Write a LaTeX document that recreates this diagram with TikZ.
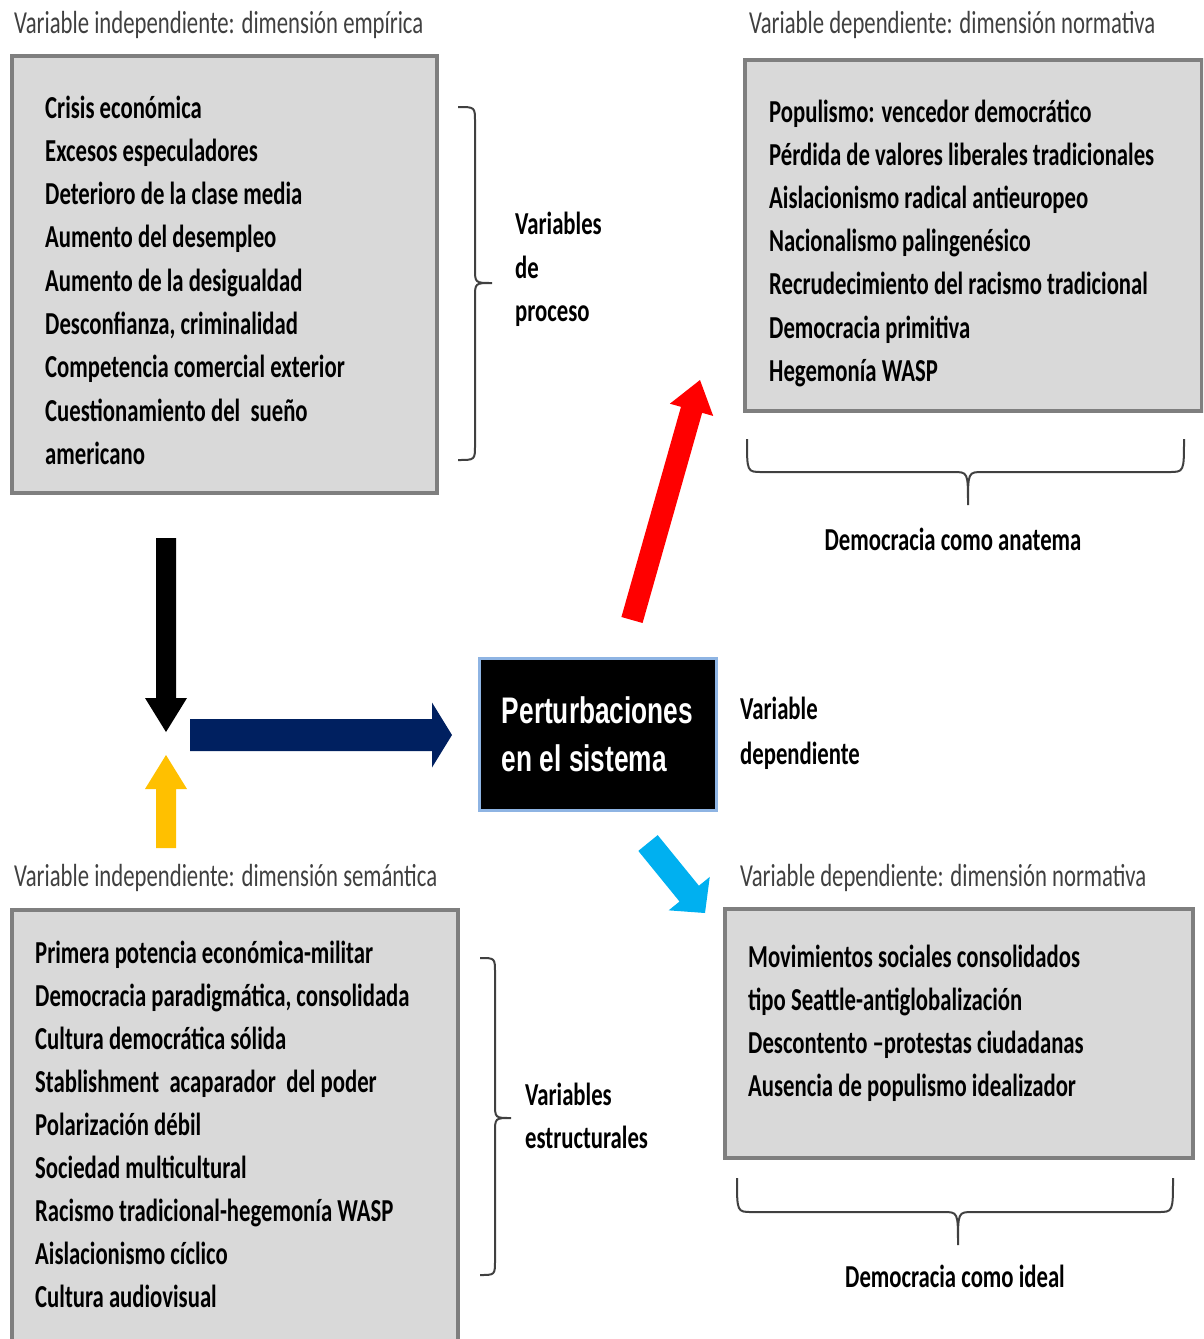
\documentclass[tikz,border=0pt]{standalone}
\usepackage{fontspec}
\setmainfont{Carlito}[FakeStretch=0.71]
\newfontfamily\boxfont{Liberation Sans}[FakeStretch=0.71]
\usetikzlibrary{calc}

\definecolor{boxfill}{HTML}{D9D9D9}
\definecolor{boxline}{HTML}{7F7F7F}
\definecolor{navy}{HTML}{002060}
\definecolor{amber}{HTML}{FFC000}
\definecolor{skyblue}{HTML}{00B0F0}
\definecolor{paleblue}{HTML}{8EB4E3}
\definecolor{bracegray}{HTML}{404040}
\definecolor{headgray}{HTML}{404040}

% block arrow: colour, tail, tip, half shaft width, half head width, head length
\newcommand\BlkArrow[6]{%
  \coordinate (#3-base) at ($(#3)!#6!(#2)$);
  \fill[#1] ($(#2)!#4!90:(#3)$) -- ($(#3-base)!#4!90:(#3)$)
    -- ($(#3-base)!#5!90:(#3)$) -- (#3) -- ($(#3-base)!#5!-90:(#3)$)
    -- ($(#3-base)!#4!-90:(#3)$) -- ($(#2)!#4!-90:(#3)$) -- cycle;
}

\tikzset{
  panel/.style={draw=boxline, fill=boxfill, line width=4pt, inner sep=0, outer sep=0},
  item/.style={anchor=base west, inner sep=0, font=\fontsize{32}{38}\selectfont\bfseries, text=black},
  head/.style={anchor=base west, inner sep=0, font=\fontsize{32}{38}\selectfont, text=headgray},
  bracel/.style={draw=bracegray, line width=2pt},
}

\begin{document}
\begin{tikzpicture}[x=1pt, y=-1pt]
\useasboundingbox (0,0) rectangle (1203,1339);
\clip (0,0) rectangle (1203,1339);

% ---------- panels ----------
\node[panel, minimum width=425pt, minimum height=437pt] (emp) at (224.5,274.5) {};
\node[panel, minimum width=457pt, minimum height=351pt] (anat) at (973.5,235.5) {};
\node[panel, minimum width=446pt, minimum height=435pt] (sem) at (235,1127.5) {};
\node[panel, minimum width=468pt, minimum height=249pt] (ideal) at (959,1033.5) {};

% ---------- headings ----------
\node[head] (h1) at (14,33) {Variable independiente: dimensión empírica};
\node[head] (h2) at (749,33) {Variable dependiente: dimensión normativa};
\node[head] (h3) at (14,886) {Variable independiente: dimensión semántica};
\node[head] (h4) at (740,886) {Variable dependiente: dimensión normativa};

% ---------- panel contents ----------
\foreach \t [count=\i] in {Crisis económica, Excesos especuladores,
    Deterioro de la clase media, Aumento del desempleo, Aumento de la desigualdad,
    {Desconfianza, criminalidad}, Competencia comercial exterior,
    Cuestionamiento del\ \ sueño, americano}
  \node[item] (emp\i) at (45,{118+43.3*(\i-1)}) {\t};

\foreach \t [count=\i] in {Populismo: vencedor democrático,
    Pérdida de valores liberales tradicionales, Aislacionismo radical antieuropeo,
    Nacionalismo palingenésico, Recrudecimiento del racismo tradicional,
    Democracia primitiva, Hegemonía WASP}
  \node[item] (anat\i) at (769,{122+43.2*(\i-1)}) {\t};

\foreach \t [count=\i] in {Primera potencia económica-militar,
    {Democracia paradigmática, consolidada}, Cultura democrática sólida,
    Stablishment\ \ acaparador\ \ del poder, Polarización débil,
    Sociedad multicultural, Racismo tradicional-hegemonía WASP,
    Aislacionismo cíclico, Cultura audiovisual}
  \node[item] (sem\i) at (35,{963+43*(\i-1)}) {\t};

\foreach \t [count=\i] in {Movimientos sociales consolidados,
    tipo Seattle-antiglobalización, Descontento –protestas ciudadanas,
    Ausencia de populismo idealizador}
  \node[item] (ideal\i) at (748,{967+43.3*(\i-1)}) {\t};

% ---------- braces and their labels ----------
\draw[bracel] (458,107) .. controls (475,107) .. (475,122) -- (475,268)
  .. controls (475,283) .. (492,283) .. controls (475,283) .. (475,298)
  -- (475,445) .. controls (475,460) .. (458,460);
\node[item] (proc1) at (515,234) {Variables};
\node[item] (proc2) at (515,278) {de};
\node[item] (proc3) at (515,321) {proceso};

\draw[bracel] (480,958) .. controls (495,958) .. (495,973) -- (495,1103)
  .. controls (495,1118) .. (511,1118) .. controls (495,1118) .. (495,1133)
  -- (495,1260) .. controls (495,1275) .. (480,1275);
\node[item] (estr1) at (525,1105) {Variables};
\node[item] (estr2) at (525,1148) {estructurales};

\draw[bracel] (747,439) .. controls (747,472) .. (762,472) -- (953,472)
  .. controls (968,472) .. (968,505) .. controls (968,472) .. (983,472)
  -- (1169,472) .. controls (1184,472) .. (1184,439);
\node[item, anchor=base] (anatema) at (953,550) {Democracia como anatema};

\draw[bracel] (737,1178) .. controls (737,1212) .. (752,1212) -- (943,1212)
  .. controls (958,1212) .. (958,1245) .. controls (958,1212) .. (973,1212)
  -- (1158,1212) .. controls (1173,1212) .. (1173,1178);
\node[item, anchor=base] (idealtag) at (955,1287) {Democracia como ideal};

% ---------- central node ----------
\node[draw=paleblue, fill=black, line width=3pt, minimum width=237pt, minimum height=152pt,
      inner sep=0, text=white, align=left,
      font=\boxfont\bfseries\fontsize{37}{47}\selectfont] (pert) at (597.5,734)
      {Perturbaciones\\[1pt]en el sistema};
\node[item] (vd1) at (740,719) {Variable};
\node[item] (vd2) at (740,764) {dependiente};

% ---------- block arrows ----------
\coordinate (blkT) at (166,538);   \coordinate (blkH) at (166,732);
\coordinate (ambT) at (166,848);   \coordinate (ambH) at (166,755);
\coordinate (navT) at (190,735);   \coordinate (navH) at (452,735);
\coordinate (redT) at (632,620);   \coordinate (redH) at (700,380);
\coordinate (skyT) at (648,843);   \coordinate (skyH) at (705,913);
\BlkArrow{black}{blkT}{blkH}{10pt}{21pt}{34pt}
\BlkArrow{amber}{ambT}{ambH}{10pt}{21pt}{34pt}
\BlkArrow{navy}{navT}{navH}{16pt}{32.5pt}{20pt}
\BlkArrow{red}{redT}{redH}{11pt}{22.5pt}{31pt}
\BlkArrow{skyblue}{skyT}{skyH}{12.5pt}{26.5pt}{25pt}
\end{tikzpicture}
\end{document}
